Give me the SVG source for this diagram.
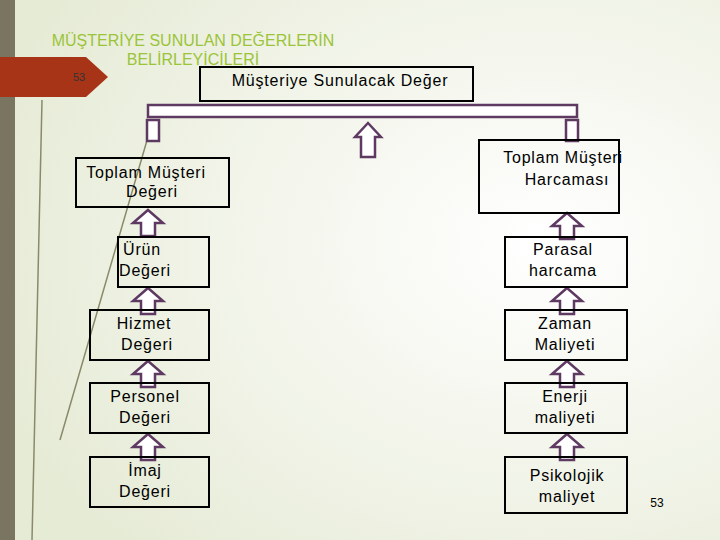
<svg xmlns="http://www.w3.org/2000/svg" width="720" height="540" viewBox="0 0 720 540">
<defs>
<radialGradient id="bg" cx="0.75" cy="0.45" r="0.8">
<stop offset="0" stop-color="#ffffff"/><stop offset="1" stop-color="#e6ebd6"/>
</radialGradient>
<path id="ua" d="M0,0 L15,13 L7,13 L7,26 L-7,26 L-7,13 L-15,13 Z"/>
</defs>
<style>
.b{fill:none;stroke:#000;stroke-width:2}
.t{font-family:"Liberation Sans",Arial,sans-serif;font-size:16px;fill:#000;text-anchor:middle;letter-spacing:0.8px}
.a{fill:#fff;stroke:#5e3a62;stroke-width:2.5}
</style>
<rect width="720" height="540" fill="url(#bg)"/>
<rect width="15" height="540" fill="#7a7560"/>
<path d="M42,100 L32,540 M150,130 L60,440" stroke="#8a8a6a" stroke-width="1.5" fill="none"/>
<path d="M0,57 L86,57 L108,77 L86,97 L0,97 Z" fill="#a83418"/>
<text x="73" y="81" font-family="Liberation Sans,sans-serif" font-size="11" fill="#333">53</text>
<text x="193" y="46" font-family="Liberation Sans,sans-serif" font-size="16" fill="#9cc438" text-anchor="middle">MÜŞTERİYE SUNULAN DEĞERLERİN</text>
<text x="193" y="65" font-family="Liberation Sans,sans-serif" font-size="16" fill="#9cc438" text-anchor="middle">BELİRLEYİCİLERİ</text>
<text x="657" y="507" font-family="Liberation Sans,sans-serif" font-size="12" fill="#000" text-anchor="middle">53</text>
<g id="connectors">
<rect x="148" y="105" width="429" height="12" class="a"/>
<rect x="147" y="120" width="12" height="21" class="a"/>
<rect x="566" y="120" width="12" height="21" class="a"/>
<path d="M368,123 L381,137 L375,137 L375,157 L361,157 L361,137 L355,137 Z" class="a"/>
<use href="#ua" x="148" y="210" class="a"/>
<use href="#ua" x="148" y="288" class="a"/>
<use href="#ua" x="148" y="361" class="a"/>
<use href="#ua" x="148" y="434" class="a"/>
<use href="#ua" x="567" y="213" class="a"/>
<use href="#ua" x="567" y="288" class="a"/>
<use href="#ua" x="567" y="361" class="a"/>
<use href="#ua" x="567" y="434" class="a"/>
</g>
<g id="top"><rect x="200" y="67" width="273" height="34" class="b" fill="#fff"/><text class="t" x="340" y="86">Müşteriye Sunulacak  Değer</text></g>
<g id="l1"><rect x="76" y="158" width="153" height="49" class="b"/><text class="t" x="146" y="178">Toplam Müşteri</text><text class="t" x="152" y="197">Değeri</text></g>
<g id="l2"><rect x="118" y="237" width="91" height="50" class="b"/><text class="t" x="142" y="255">Ürün</text><text class="t" x="145" y="276">Değeri</text></g>
<g id="l3"><rect x="90" y="310" width="119" height="50" class="b"/><text class="t" x="144" y="329">Hizmet</text><text class="t" x="147" y="350">Değeri</text></g>
<g id="l4"><rect x="90" y="383" width="119" height="50" class="b"/><text class="t" x="145" y="402">Personel</text><text class="t" x="145" y="423">Değeri</text></g>
<g id="l5"><rect x="90" y="457" width="119" height="50" class="b"/><text class="t" x="145" y="476">İmaj</text><text class="t" x="145" y="497">Değeri</text></g>
<g id="r1"><rect x="479" y="140" width="140" height="73" class="b"/><text class="t" x="563" y="163">Toplam Müşteri</text><text class="t" x="567" y="185">Harcaması</text></g>
<g id="r2"><rect x="505" y="237" width="122" height="50" class="b"/><text class="t" x="563" y="255">Parasal</text><text class="t" x="563" y="276">harcama</text></g>
<g id="r3"><rect x="505" y="310" width="122" height="50" class="b"/><text class="t" x="565" y="329">Zaman</text><text class="t" x="565" y="350">Maliyeti</text></g>
<g id="r4"><rect x="505" y="383" width="122" height="50" class="b"/><text class="t" x="565" y="402">Enerji</text><text class="t" x="565" y="423">maliyeti</text></g>
<g id="r5"><rect x="505" y="457" width="122" height="56" class="b"/><text class="t" x="567" y="481">Psikolojik</text><text class="t" x="567" y="502">maliyet</text></g>
</svg>
